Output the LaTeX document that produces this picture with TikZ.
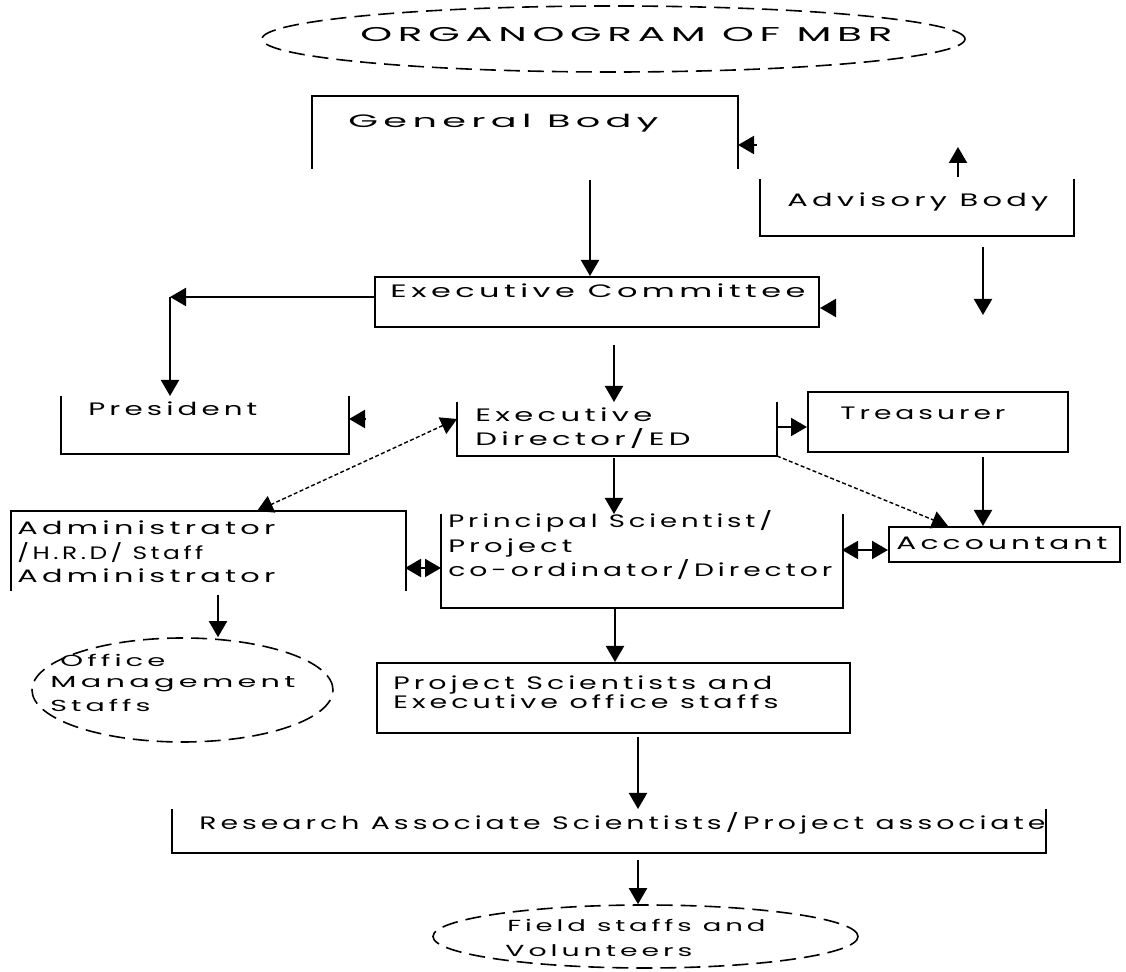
\documentclass[tikz,border=0pt]{standalone}
\usepackage{fontspec}
\usepackage{graphicx}
\newfontfamily\orgfont{Poppins}[LetterSpace=14]
\usetikzlibrary{arrows.meta,calc,shapes.geometric}
\newcommand{\fitline}[2]{\resizebox{#1}{\height}{#2}}
\begin{document}
\begin{tikzpicture}[x=0.5pt,y=-0.5pt,
    >={Triangle[length=8pt,width=9pt]},
    frame/.style={line width=1pt},
    boxnode/.style={rectangle,inner sep=0pt,line width=1pt},
    oval/.style={ellipse,inner sep=0pt,draw,line width=0.8pt,dash pattern=on 8pt off 4pt},
    conn/.style={line width=1pt,->},
    both/.style={line width=1pt,<->},
    dconn/.style={line width=0.7pt,dash pattern=on 2pt off 1.2pt,->},
    dboth/.style={dconn,<->},
    txt/.style={anchor=base west,inner sep=0pt,font=\orgfont\fontsize{9}{11}\selectfont},
    smalltxt/.style={txt,font=\orgfont\fontsize{8}{10}\selectfont},
    titletxt/.style={txt,font=\orgfont\fontsize{10}{12}\selectfont}]
  \useasboundingbox (0,0) rectangle (1126,972);

  % title
  \node[oval,minimum width=351.5pt,minimum height=33pt] (title) at (613.5,39) {};
  \node[titletxt] (title-t) at (360,42) {\fitline{266pt}{ORGANOGRAM OF MBR}};

  % boxes
  \node[boxnode,minimum width=212pt,minimum height=35.5pt] (gb) at (525,132.5) {};
  \node[boxnode,minimum width=156pt,minimum height=27.5pt] (adv) at (917,207.5) {};
  \node[boxnode,draw,minimum width=222pt,minimum height=25pt] (ec) at (597,302) {};
  \node[boxnode,minimum width=143pt,minimum height=28pt] (pres) at (205,425) {};
  \node[boxnode,minimum width=159pt,minimum height=26pt] (ed) at (617,429) {};
  \node[boxnode,draw,minimum width=130pt,minimum height=30pt] (tr) at (938,422) {};
  \node[boxnode,draw,minimum width=115.5pt,minimum height=17.5pt] (acc) at (1004.5,544.5) {};
  \node[boxnode,minimum width=200pt,minimum height=46pt] (ps) at (642,561) {};
  \node[boxnode,minimum width=196.5pt,minimum height=39pt] (adm) at (208.5,551) {};
  \node[oval,minimum width=150.5pt,minimum height=52pt] (office) at (182.5,690) {};
  \node[boxnode,draw,minimum width=236.5pt,minimum height=35pt] (pj) at (613.5,698) {};
  \node[boxnode,minimum width=436pt,minimum height=21pt] (res) at (609,831) {};
  \node[oval,minimum width=212.5pt,minimum height=31.5pt] (field) at (645.5,936.5) {};

  % open frames
  \draw[frame] (gb.south west) -- (gb.north west) -- (gb.north east) -- (gb.south east);
  \draw[frame] (adm.south west) -- (adm.north west) -- (adm.north east) -- (adm.south east);
  \foreach \b in {adv,pres,ed,ps,res}
    \draw[frame] (\b.north west) -- (\b.south west) -- (\b.south east) -- (\b.north east);

  % texts
  \node[txt] (gb-t) at (348,128) {\fitline{155pt}{General Body}};
  \node[txt] (adv-t) at (787,207) {\fitline{130.5pt}{Advisory Body}};
  \node[txt] (ec-t) at (390,298) {\fitline{207.5pt}{Executive Committee}};
  \node[txt] (pres-t) at (88,416) {\fitline{84.5pt}{President}};
  \node[txt] (ed-t1) at (475,422) {\fitline{88.5pt}{Executive}};
  \node[txt] (ed-t2) at (475,446) {\fitline{107.5pt}{Director/ED}};
  \node[txt] (tr-t) at (840,420) {\fitline{82.5pt}{Treasurer}};
  \node[txt] (acc-t) at (896,550) {\fitline{105.5pt}{Accountant}};
  \node[txt] (ps-t1) at (448,528) {\fitline{162pt}{Principal Scientist/}};
  \node[txt] (ps-t2) at (448,553) {\fitline{62pt}{Project}};
  \node[txt] (ps-t3) at (448,577) {\fitline{192pt}{co-ordinator/Director}};
  \node[txt] (adm-t1) at (17,535) {\fitline{129pt}{Administrator}};
  \node[txt] (adm-t2) at (17,560) {\fitline{93pt}{/H.R.D/ Staff}};
  \node[txt] (adm-t3) at (17,583) {\fitline{129pt}{Administrator}};
  \node[smalltxt] (office-t1) at (60,667) {\fitline{52.5pt}{Office}};
  \node[smalltxt] (office-t2) at (50,688) {\fitline{122.5pt}{Management}};
  \node[smalltxt] (office-t3) at (50,712) {\fitline{50pt}{Staffs}};
  \node[txt] (pj-t1) at (393,690) {\fitline{189.5pt}{Project Scientists and}};
  \node[txt] (pj-t2) at (393,709) {\fitline{192.5pt}{Executive office staffs}};
  \node[txt] (res-t) at (199,830) {\fitline{423pt}{Research Associate Scientists/Project associate}};
  \node[smalltxt] (field-t1) at (507,932) {\fitline{129pt}{Field staffs and}};
  \node[smalltxt] (field-t2) at (505,957) {\fitline{93.5pt}{Volunteers}};

  % free ends
  \coordinate (gbstub) at (757,145);
  \coordinate (advup) at (958,177);
  \coordinate (advuptip) at (958,147);
  \coordinate (advdown) at (983,247);
  \coordinate (advdowntip) at (983,315);
  \coordinate (gbout) at (590,180);
  \coordinate (ecstub) at (834,308);
  \coordinate (prescorner) at (170,297);
  \coordinate (ecout) at (614,345);
  \coordinate (presstub) at (366,419);
  \coordinate (edtr) at (776,427);
  \coordinate (trout) at (983,457);
  \coordinate (edout) at (614,458);
  \coordinate (psacc) at (842,550);
  \coordinate (admps) at (405,568);
  \coordinate (admout) at (218,595);
  \coordinate (psout) at (615,607);
  \coordinate (pjout) at (638,737);
  \coordinate (resout) at (638,860);

  % connectors
  \draw[conn] (gbstub) -- (gbstub -| gb.east);
  \draw[conn] (advup) -- (advuptip);
  \draw[conn] (advdown) -- (advdowntip);
  \draw[conn] (gbout) -- (gbout |- ec.north);
  \draw[conn] (ecstub) -- (ecstub -| ec.east);
  \draw[conn] (ec.west |- prescorner) -- (prescorner);
  \draw[conn] (prescorner) -- (prescorner |- pres.north);
  \draw[conn] (ecout) -- (ecout |- ed.north);
  \draw[conn] (presstub) -- (presstub -| pres.east);
  \draw[dboth] ($(ed.north west)+(0,17)$) -- ($(adm.north west)+(246,0)$);
  \draw[conn] (edtr) -- (edtr -| tr.west);
  \draw[dconn] (ed.south east) -- ($(acc.north west)+(60,0)$);
  \draw[conn] (trout) -- (trout |- acc.north);
  \draw[conn] (edout) -- (edout |- ps.north);
  \draw[both] (psacc) -- (psacc -| acc.west);
  \draw[both] (admps) -- (admps -| ps.west);
  \draw[conn] (admout) -- (admout |- office.north);
  \draw[conn] (psout) -- (psout |- pj.north);
  \draw[conn] (pjout) -- (pjout |- res.north);
  \draw[conn] (resout) -- (resout |- field.north);
\end{tikzpicture}
\end{document}
